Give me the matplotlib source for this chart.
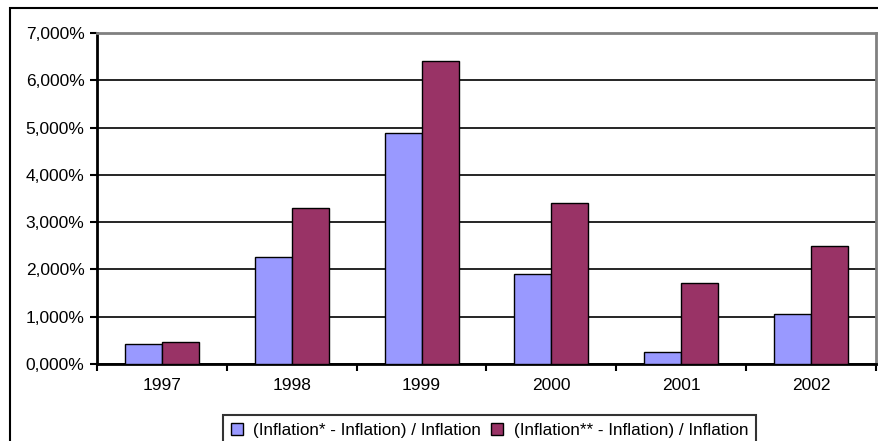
import matplotlib.pyplot as plt
import numpy as np
from matplotlib.patches import Rectangle
from matplotlib.ticker import FuncFormatter, FixedLocator

plt.rcParams['font.family'] = ['Liberation Sans', 'DejaVu Sans']

years = ['1997', '1998', '1999', '2000', '2001', '2002']
inflation_star = [0.42, 2.27, 4.88, 1.90, 0.25, 1.05]
inflation_2star = [0.46, 3.30, 6.41, 3.41, 1.72, 2.49]
labels = ['(Inflation* - Inflation) / Inflation', '(Inflation** - Inflation) / Inflation']

fig = plt.figure(figsize=(8.79, 4.41), dpi=100)
# outer chart border (cut off on right/bottom like the reference)
fig.patches.append(Rectangle((10 / 879, -0.05), 1.2, 1 - 8 / 441 + 0.05, transform=fig.transFigure,
                             fill=False, edgecolor='black', linewidth=1.5))

ax = fig.add_axes([97 / 879, 1 - 364 / 441, (876 - 97) / 879, (364 - 33) / 441])

x = np.arange(len(years))
w = 0.285
ax.bar(x - w / 2, inflation_star, w, color='#9999FF', edgecolor='black', linewidth=1, label=labels[0], zorder=3)
ax.bar(x + w / 2, inflation_2star, w, color='#993366', edgecolor='black', linewidth=1, label=labels[1], zorder=3)

ax.set_xlim(-0.5, len(years) - 0.5)
ax.set_ylim(0, 7)
ax.set_yticks(np.arange(0, 8, 1))
ax.yaxis.set_major_formatter(FuncFormatter(lambda v, p: f'{v:.3f}'.replace('.', ',') + '%'))
ax.yaxis.grid(True, color='black', linewidth=1.2, zorder=0)

ax.set_xticks(x)
ax.set_xticklabels(years)
ax.xaxis.set_minor_locator(FixedLocator(np.arange(-0.5, len(years), 1)))
ax.tick_params(axis='x', which='major', length=0, pad=10, labelsize=12.5)
ax.tick_params(axis='x', which='minor', length=5, width=1.5, direction='out')
ax.tick_params(axis='y', length=5, width=1.5, direction='out', labelsize=12.5, pad=4)

for s in ['left', 'bottom']:
    ax.spines[s].set_linewidth(2)
    ax.spines[s].set_color('black')
for s in ['top', 'right']:
    ax.spines[s].set_linewidth(2)
    ax.spines[s].set_color('#808080')

leg = fig.legend(loc='lower center', bbox_to_anchor=(0.557, -0.03), ncol=2, frameon=True, fancybox=False,
                 edgecolor='black', fontsize=12.3, handlelength=0.7, handleheight=0.7, handletextpad=0.6,
                 columnspacing=0.6, borderpad=0.45)
leg.get_frame().set_linewidth(1.5)

fig.savefig('out.png', dpi=100)
